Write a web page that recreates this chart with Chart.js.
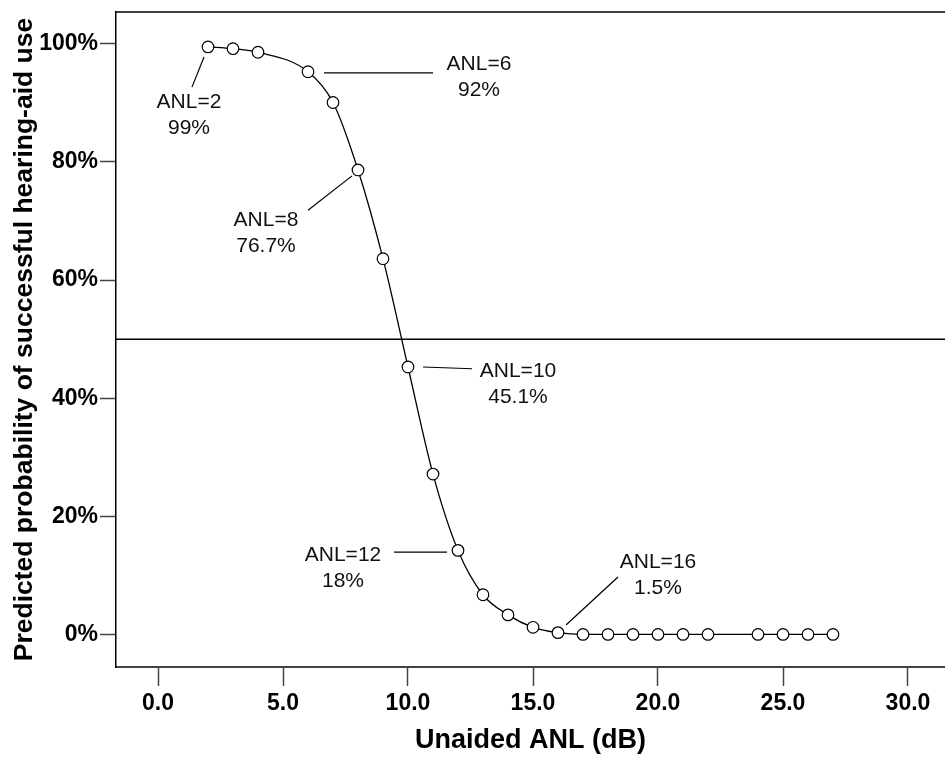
<!DOCTYPE html>
<html>
<head>
<meta charset="utf-8">
<script src="https://cdn.jsdelivr.net/npm/chart.js@4.4.1/dist/chart.umd.min.js"></script>
<style>
  html, body { margin: 0; padding: 0; background: #fff; }
  #wrap { width: 945px; height: 757px; }
</style>
</head>
<body>
<div id="wrap"><canvas id="anlChart" width="945" height="757"></canvas></div>
<script>
// unaided ANL (dB) and predicted probability (%)
const anl = [2, 3, 4, 6, 7, 8, 9, 10, 11, 12, 13, 14, 15, 16, 17, 18, 19, 20, 21, 22, 24, 25, 26, 27];
const prob = [99.4, 99.1, 98.5, 95.2, 90.0, 78.6, 63.6, 45.3, 27.2, 14.3, 6.8, 3.4, 1.3, 0.4, 0.1, 0.1, 0.1, 0.1, 0.1, 0.1, 0.1, 0.1, 0.1, 0.1];

const xTicks = [0, 5, 10, 15, 20, 25, 30];
const yTicks = [0, 20, 40, 60, 80, 100];
const refLine = 50;

// callout labels: text lines, text centre, leader line (data units)
const calloutText = [['ANL=2', '99%'], ['ANL=6', '92%'], ['ANL=8', '76.7%'], ['ANL=10', '45.1%'], ['ANL=12', '18%'], ['ANL=16', '1.5%']];
const calloutAt = [[1.24, 90.1], [12.84, 96.5], [4.32, 70.1], [14.4, 44.6], [7.4, 13.5], [20.0, 12.3]];
const calloutLine = [
    [[1.84, 97.7], [1.36, 92.6]],
    [[6.64, 95.0], [11.0, 95.0]],
    [[7.76, 77.6], [6.0, 71.8]],
    [[10.6, 45.3], [12.56, 45.0]],
    [[9.44, 14.0], [11.56, 14.0]],
    [[16.32, 1.7], [18.4, 9.8]]
];

const FONT = "'Liberation Sans', Helvetica, Arial, sans-serif";

const extras = {
    id: 'extras',
    beforeDatasetsDraw(chart) {
        const {ctx, chartArea: a, scales: {y}} = chart;
        ctx.save();
        ctx.strokeStyle = '#000';
        ctx.lineWidth = 1.5;
        ctx.beginPath();
        ctx.moveTo(a.left, a.top);
        ctx.lineTo(a.right, a.top);
        let yy = y.getPixelForValue(refLine);
        ctx.moveTo(a.left, yy);
        ctx.lineTo(a.right, yy);
        ctx.stroke();
        ctx.restore();
    },
    afterDatasetsDraw(chart) {
        const {ctx, scales: {x, y}} = chart;
        ctx.save();
        ctx.strokeStyle = '#000';
        ctx.lineWidth = 1.2;
        ctx.fillStyle = '#111';
        ctx.font = '21px ' + FONT;
        ctx.textAlign = 'center';
        ctx.textBaseline = 'middle';
        calloutText.forEach((lines, i) => {
            let seg = calloutLine[i];
            ctx.beginPath();
            ctx.moveTo(x.getPixelForValue(seg[0][0]), y.getPixelForValue(seg[0][1]));
            ctx.lineTo(x.getPixelForValue(seg[1][0]), y.getPixelForValue(seg[1][1]));
            ctx.stroke();
            let cx = x.getPixelForValue(calloutAt[i][0]);
            let cy = y.getPixelForValue(calloutAt[i][1]);
            lines.forEach((t, j) => ctx.fillText(t, cx, cy + j * 26));
        });
        ctx.restore();
    }
};

var ctx = document.getElementById('anlChart').getContext('2d');
var anlChart = new Chart(ctx, {
    type: 'line',
    data: {
        datasets: [{
            data: anl.map((v, i) => ({x: v, y: prob[i]})),
            borderColor: '#000',
            borderWidth: 1.3,
            cubicInterpolationMode: 'monotone',
            pointRadius: 5.8,
            pointBackgroundColor: '#fff',
            pointBorderColor: '#000',
            pointBorderWidth: 1.2,
            fill: false
        }]
    },
    options: {
        responsive: false,
        animation: false,
        devicePixelRatio: 1,
        layout: {
            autoPadding: false,
            padding: {top: 12, right: 0, left: 0, bottom: 0}
        },
        plugins: {
            legend: { display: false },
            tooltip: { enabled: false }
        },
        scales: {
            x: {
                type: 'linear',
                min: -1.68,
                max: 31.48,
                afterBuildTicks: s => { s.ticks = xTicks.map(v => ({value: v})); },
                afterFit: s => {
                    s.height = 90;
                    s.paddingLeft = 0;
                    s.paddingRight = 0;
                },
                ticks: {
                    color: '#000',
                    padding: 4,
                    font: {family: FONT, size: 23, weight: 'bold'},
                    callback: v => v.toFixed(1)
                },
                grid: {
                    drawOnChartArea: false,
                    tickLength: 19,
                    tickColor: '#444',
                    tickWidth: 1.5
                },
                border: { color: '#444', width: 2 },
                title: {
                    display: true,
                    text: 'Unaided ANL (dB)',
                    color: '#000',
                    font: {family: FONT, size: 27, weight: 'bold'},
                    padding: {top: 0, bottom: 0}
                }
            },
            y: {
                type: 'linear',
                min: -5.41,
                max: 105.3,
                afterBuildTicks: s => { s.ticks = yTicks.map(v => ({value: v})); },
                afterFit: s => {
                    s.width = 116;
                    s.paddingTop = 0;
                    s.paddingBottom = 0;
                },
                ticks: {
                    color: '#000',
                    padding: 2,
                    font: {family: FONT, size: 23, weight: 'bold'},
                    callback: v => v + '%'
                },
                grid: {
                    drawOnChartArea: false,
                    tickLength: 16,
                    tickColor: '#444',
                    tickWidth: 1.5
                },
                border: { color: '#000', width: 1.5 },
                title: {
                    display: true,
                    text: 'Predicted probability of successful hearing-aid use',
                    color: '#000',
                    font: {family: FONT, size: 26.5, weight: 'bold'},
                    padding: {top: 9, bottom: 0}
                }
            }
        }
    },
    plugins: [extras]
});
</script>
</body>
</html>
